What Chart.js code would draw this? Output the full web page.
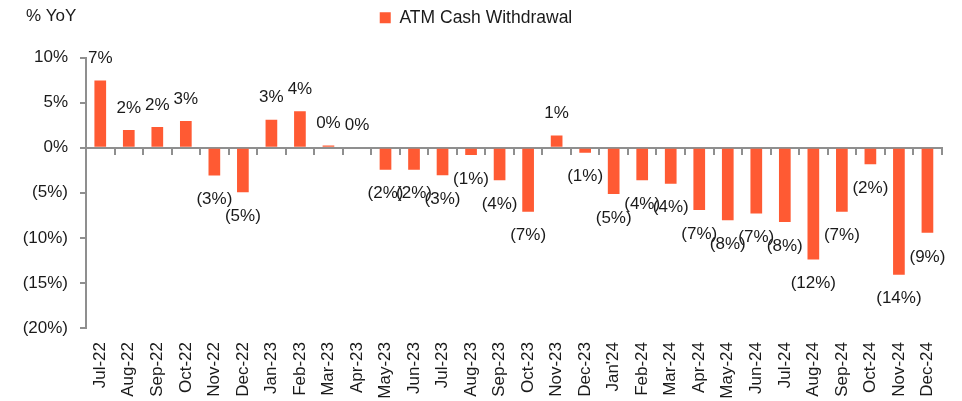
<!DOCTYPE html>
<html>
<head>
<meta charset="utf-8">
<script src="https://cdn.jsdelivr.net/npm/chart.js@4.4.1/dist/chart.umd.min.js"></script>
<style>
  html, body { margin: 0; padding: 0; background: #fff; }
  #wrap { width: 962px; height: 401px; }
</style>
</head>
<body>
<div id="wrap"><canvas id="chart"></canvas></div>
<script>
const months = ["Jul-22", "Aug-22", "Sep-22", "Oct-22", "Nov-22", "Dec-22", "Jan-23", "Feb-23", "Mar-23", "Apr-23",
  "May-23", "Jun-23", "Jul-23", "Aug-23", "Sep-23", "Oct-23", "Nov-23", "Dec-23", "Jan'24", "Feb-24",
  "Mar-24", "Apr-24", "May-24", "Jun-24", "Jul-24", "Aug-24", "Sep-24", "Oct-24", "Nov-24", "Dec-24"];
const atmWithdrawal = [7.45, 1.95, 2.3, 2.95, -3.1, -4.95, 3.1, 4.05, 0.25, 0.0,
  -2.45, -2.45, -3.05, -0.8, -3.6, -7.1, 1.35, -0.55, -5.15, -3.6,
  -4.0, -6.9, -8.05, -7.3, -8.25, -12.4, -7.1, -1.85, -14.1, -9.45];
const yTicks = [10, 5, 0, -5, -10, -15, -20];

const axisGray = "#8f8f8f";
const barColor = "#ff5a33";
const font = "'Liberation Sans', Arial, sans-serif";

const fmtPct = v => v < 0 ? `(${Math.round(-v)}%)` : `${Math.round(v)}%`;

// extra room under the legend so the plot starts lower
const legendGap = {
  id: "legendGap",
  beforeInit(chart) {
    const fit = chart.legend.fit;
    chart.legend.fit = function () {
      fit.call(this);
      this.height += 21;
    };
  }
};

// value labels above / below each bar
const barLabels = {
  id: "barLabels",
  afterDatasetsDraw(chart) {
    const ctx = chart.ctx;
    const meta = chart.getDatasetMeta(0);
    ctx.save();
    ctx.font = `17px ${font}`;
    ctx.fillStyle = "#1a1a1a";
    ctx.textAlign = "center";
    ctx.textBaseline = "middle";
    meta.data.forEach((bar, i) => {
      const v = atmWithdrawal[i];
      const y = v >= 0 ? bar.y - 22 : bar.y + 24;
      ctx.fillText(fmtPct(v), bar.x, y);
    });
    ctx.restore();
  }
};

// "% YoY" unit caption top-left
const unitCaption = {
  id: "unitCaption",
  afterDraw(chart) {
    const ctx = chart.ctx;
    ctx.save();
    ctx.font = `17px ${font}`;
    ctx.fillStyle = "#1a1a1a";
    ctx.textBaseline = "middle";
    ctx.fillText("% YoY", 26, 16);
    ctx.restore();
  }
};

new Chart(document.getElementById("chart"), {
  type: "bar",
  data: {
    labels: months,
    datasets: [{
      label: "ATM Cash Withdrawal",
      data: atmWithdrawal,
      backgroundColor: barColor,
      borderWidth: 0,
      barPercentage: 0.41,
      categoryPercentage: 1.0,
      xAxisID: "x",
      yAxisID: "y"
    }]
  },
  options: {
    responsive: true,
    maintainAspectRatio: false,
    animation: false,
    layout: { padding: { top: 0, right: 10, left: 0, bottom: 0 } },
    plugins: {
      legend: {
        position: "top",
        labels: {
          boxWidth: 11,
          boxHeight: 11,
          padding: 9,
          color: "#1a1a1a",
          font: { family: font, size: 17.5 }
        }
      },
      tooltip: { enabled: false }
    },
    scales: {
      x: {
        type: "category",
        offset: true,
        grid: { display: false, drawTicks: false },
        border: { display: false },
        ticks: {
          minRotation: 90,
          maxRotation: 90,
          autoSkip: false,
          padding: 14,
          color: "#1a1a1a",
          font: { family: font, size: 17 }
        },
        afterFit(scale) { scale.height = 73; }
      },
      x2: {
        type: "category",
        position: { y: 0 },
        offset: true,
        grid: { offset: true, drawOnChartArea: false, drawTicks: true, tickLength: 6, color: axisGray, lineWidth: 2 },
        border: { color: axisGray, width: 2 },
        ticks: { display: false }
      },
      y: {
        min: -20,
        max: 10,
        afterBuildTicks(scale) { scale.ticks = yTicks.map(v => ({ value: v })); },
        grid: { drawOnChartArea: false, drawTicks: true, tickLength: 6, color: axisGray, lineWidth: 2 },
        border: { color: axisGray, width: 2 },
        ticks: {
          padding: 12,
          color: "#1a1a1a",
          font: { family: font, size: 17 },
          callback: v => fmtPct(v)
        },
        afterFit(scale) { scale.width = 86; }
      }
    }
  },
  plugins: [legendGap, barLabels, unitCaption]
});
</script>
</body>
</html>
